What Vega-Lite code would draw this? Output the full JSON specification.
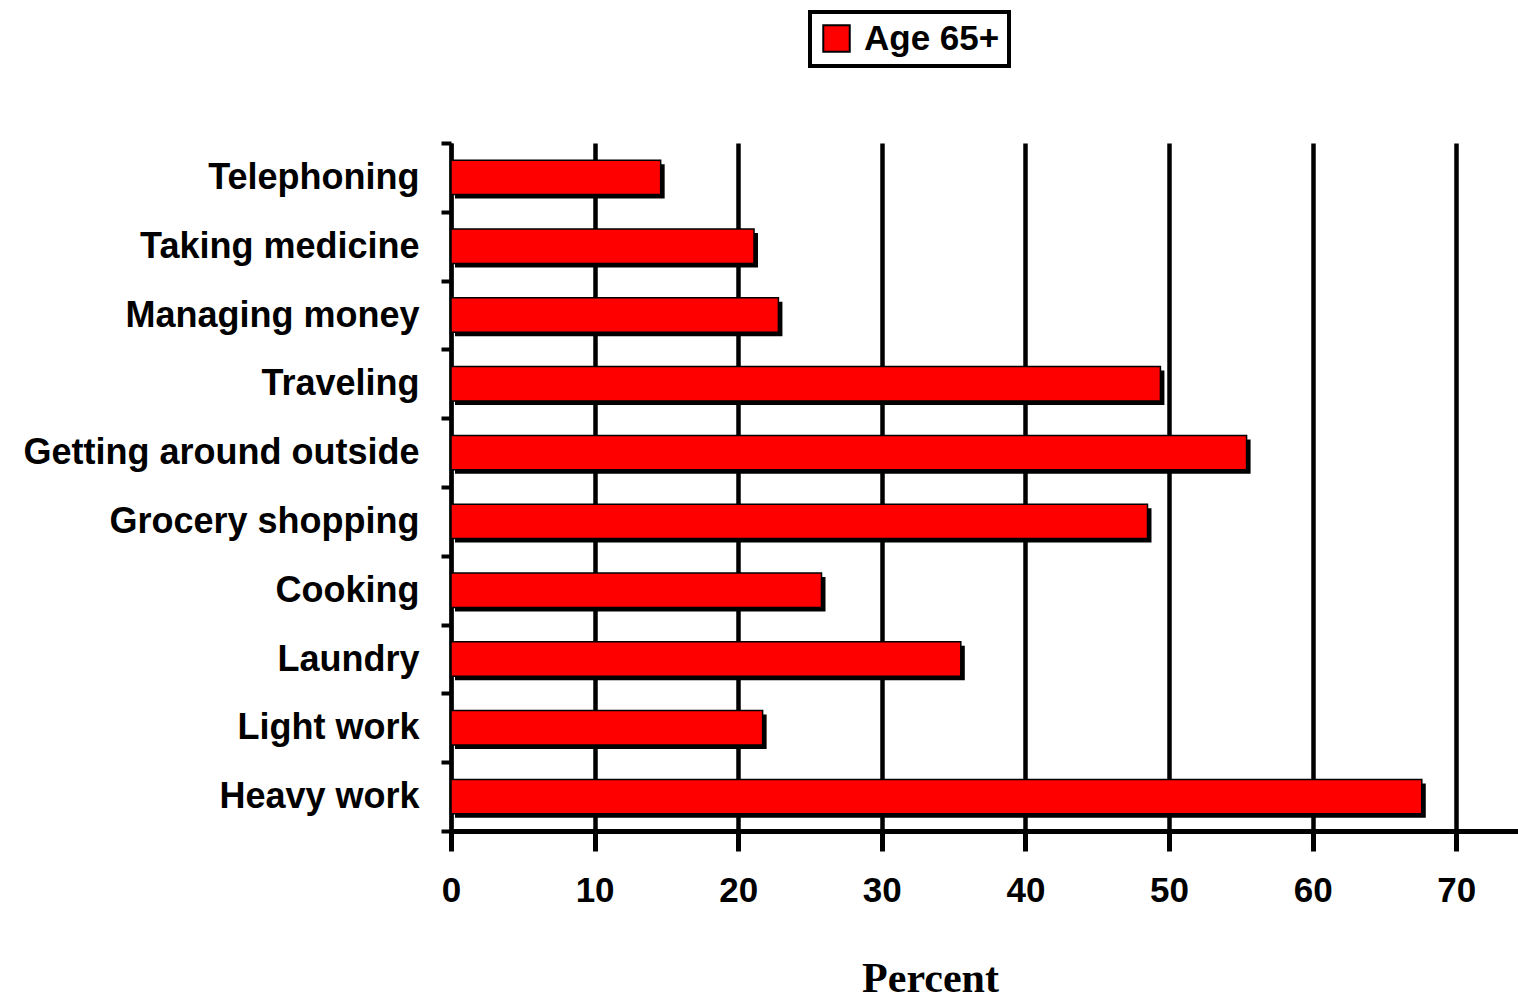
{
  "$schema": "https://vega.github.io/schema/vega-lite/v6.json",
  "autosize": {"type": "none"},
  "padding": {"left": 451, "top": 143, "right": 0, "bottom": 172},
  "width": 1067,
  "height": 688,
  "background": "white",
  "data": {
    "values": [
      {"activity": "Telephoning", "percent": 14.6, "series": "Age 65+"},
      {"activity": "Taking medicine", "percent": 21.1, "series": "Age 65+"},
      {"activity": "Managing money", "percent": 22.8, "series": "Age 65+"},
      {"activity": "Traveling", "percent": 49.4, "series": "Age 65+"},
      {"activity": "Getting around outside", "percent": 55.4, "series": "Age 65+"},
      {"activity": "Grocery shopping", "percent": 48.5, "series": "Age 65+"},
      {"activity": "Cooking", "percent": 25.8, "series": "Age 65+"},
      {"activity": "Laundry", "percent": 35.5, "series": "Age 65+"},
      {"activity": "Light work", "percent": 21.7, "series": "Age 65+"},
      {"activity": "Heavy work", "percent": 67.6, "series": "Age 65+"}
    ]
  },
  "encoding": {
    "y": {
      "field": "activity",
      "type": "nominal",
      "sort": null,
      "scale": {"paddingInner": 0, "paddingOuter": 0},
      "axis": {
        "title": null,
        "domainColor": "black",
        "domainWidth": 4,
        "tickBand": "extent",
        "tickColor": "black",
        "tickWidth": 4,
        "tickSize": 10,
        "labelFont": "Liberation Sans",
        "labelFontWeight": "bold",
        "labelFontSize": 36,
        "labelColor": "black",
        "labelPadding": 22,
        "labelLimit": 0,
        "grid": false
      }
    },
    "x": {
      "field": "percent",
      "type": "quantitative",
      "scale": {"domain": [0, 74.3], "nice": false, "zero": true},
      "axis": {
        "title": "Percent",
        "values": [0, 10, 20, 30, 40, 50, 60, 70],
        "grid": true,
        "gridColor": "black",
        "gridWidth": 4.5,
        "gridOpacity": 1,
        "domainColor": "black",
        "domainWidth": 5,
        "tickColor": "black",
        "tickWidth": 5,
        "tickSize": 20,
        "labelFont": "Liberation Sans",
        "labelFontWeight": "bold",
        "labelFontSize": 35,
        "labelColor": "black",
        "labelPadding": 22,
        "labelFlush": false,
        "titleFont": "Liberation Serif",
        "titleFontWeight": "bold",
        "titleFontSize": 42,
        "titleColor": "black",
        "titleX": 479,
        "titleY": 160,
        "titleAlign": "center",
        "titleBaseline": "alphabetic"
      }
    }
  },
  "layer": [
    {
      "mark": {"type": "bar", "color": "black", "xOffset": 4, "yOffset": 4, "height": {"band": 0.5}}
    },
    {
      "mark": {"type": "bar", "stroke": "black", "strokeWidth": 1.5, "height": {"band": 0.5}},
      "encoding": {
        "color": {
          "field": "series",
          "type": "nominal",
          "scale": {"range": ["#FF0000"]},
          "legend": {
            "title": null,
            "orient": "none",
            "legendX": 359,
            "legendY": -131,
            "strokeColor": "black",
            "fillColor": "white",
            "padding": 9,
            "cornerRadius": 0,
            "symbolType": "square",
            "symbolSize": 700,
            "symbolStrokeColor": "black",
            "symbolStrokeWidth": 2,
            "symbolOpacity": 1,
            "labelFont": "Liberation Sans",
            "labelFontWeight": "bold",
            "labelFontSize": 35,
            "labelColor": "black",
            "labelOffset": 10,
            "encode": {"legend": {"update": {"strokeWidth": {"value": 4}}}}
          }
        }
      }
    }
  ],
  "config": {"view": {"stroke": null}}
}
